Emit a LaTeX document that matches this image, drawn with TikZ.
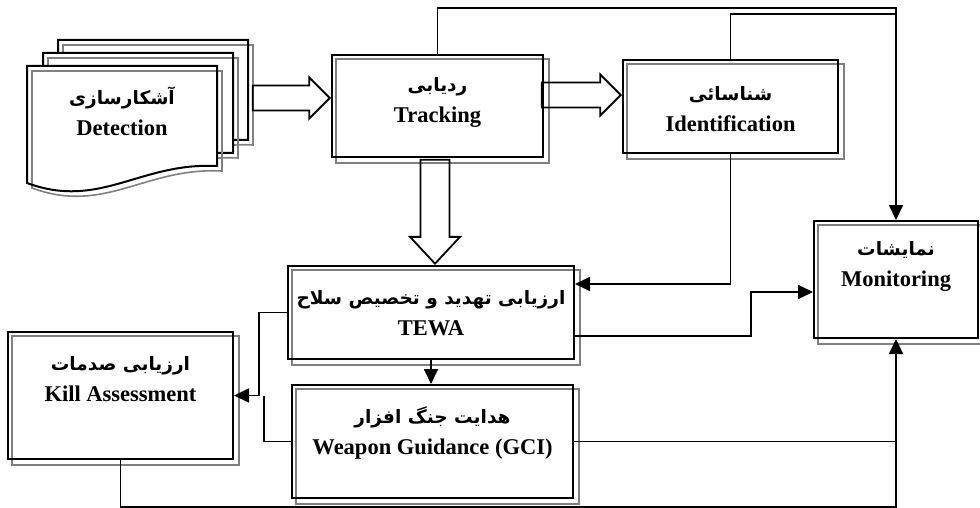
\documentclass[tikz,border=0pt]{standalone}
\usepackage{fontspec}
\setmainfont{Liberation Serif}
\newfontfamily\arabicfont[Script=Arabic]{DejaVu Sans}
\TeXXeTstate=1
\usetikzlibrary{arrows.meta,shapes.arrows,backgrounds}

\newcommand{\fafont}{\arabicfont\bfseries\fontsize{18.5}{30}\selectfont}
\newcommand{\docpath}{(0,0) -- (190,0) -- (190,100) .. controls (113,96) and (73,144) .. (0,117) -- cycle}

\tikzset{
    box/.style={draw, line width=2pt, rectangle, inner sep=0pt},
    lbl/.style={align=center, font=\fontsize{22.5}{31}\selectfont\bfseries},
    conn/.style={line width=1.8pt},
    tip/.style={conn, -{Triangle[length=15pt,width=14pt]}},
    hollow/.style={draw, line width=1.8pt, single arrow, single arrow head indent=0pt, anchor=tip},
    shade/.style={draw=gray, line width=1.6pt}
}

\begin{document}
\begin{tikzpicture}[x=1pt, y=-1pt]
    \useasboundingbox (0,0) rectangle (980,508);

    % stacked documents
    \foreach \dx/\dy in {31/-26, 16/-13, 0/0} {
        \begin{scope}[shift={(27+\dx,66+\dy)}]
            \fill[white] \docpath;
            \draw[shade, shift={(5,5)}] \docpath;
            \draw[line width=2pt] \docpath;
        \end{scope}
    }
    \node[lbl] (det) at (122,111) {{\fafont\beginR آشکارسازی\endR}\\Detection};

    % boxes
    \node[box, minimum width=211pt, minimum height=102pt,
        label={[lbl, yshift=4pt]center:{{\fafont\beginR ردیابی\endR}\\Tracking}}] (trk) at (437.5,106) {};
    \node[box, minimum width=215pt, minimum height=93pt,
        label={[lbl, yshift=-2.5pt]center:{{\fafont\beginR شناسائی\endR}\\Identification}}] (idn) at (730.5,106.5) {};
    \node[box, minimum width=164pt, minimum height=117pt,
        label={[lbl, yshift=13.5pt]center:{{\fafont\beginR نمایشات\endR}\\Monitoring}}] (mon) at (896,279.5) {};
    \node[box, minimum width=286pt, minimum height=93pt,
        label={[lbl, yshift=-1pt]center:{{\fafont\beginR ارزیابی تهدید و تخصیص سلاح\endR}\\TEWA}}] (tewa) at (431,312.5) {};
    \node[box, minimum width=281pt, minimum height=113pt,
        label={[lbl, yshift=8.5pt]center:{{\fafont\beginR هدایت جنگ افزار\endR}\\Weapon Guidance (GCI)}}] (gci) at (432.5,441.5) {};
    \node[box, minimum width=225pt, minimum height=127pt,
        label={[lbl, yshift=16.5pt]center:{{\fafont\beginR ارزیابی صدمات\endR}\\Kill Assessment}}] (ka) at (120.5,395.5) {};

    \begin{scope}[on background layer]
        \foreach \n in {trk,idn,mon,tewa,gci,ka}
            \draw[shade] ([shift={(5,5)}]\n.north west) rectangle ([shift={(5,5)}]\n.south east);
    \end{scope}

    % hollow arrows
    \node[hollow, inner sep=10pt, minimum height=77pt, minimum width=41pt] (a1) at ([yshift=8pt]trk.west) {};
    \node[hollow, inner sep=10pt, minimum height=79pt, minimum width=41pt] (a2) at ([yshift=11.5pt]idn.west) {};
    \node[hollow, inner sep=9pt, minimum height=104pt, minimum width=50pt,
        single arrow tip angle=86, shape border rotate=270] (a3) at ([xshift=4pt]tewa.north) {};

    % connectors
    \draw[tip] (trk.north) -- (trk.north |- 0,8) -- (mon.north |- 0,8) -- (mon.north);
    \draw[conn] (idn.north) -- (idn.north |- 0,14) -- (mon.north |- 0,14);
    \draw[tip] (idn.south) |- ([yshift=28.5pt]tewa.east);
    \draw[tip] ([yshift=-23.5pt]tewa.east) -- ++(176,0) |- ([yshift=-12.5pt]mon.west);
    \draw[tip] (tewa.south) -- (tewa.south |- gci.north);
    \draw[tip] (tewa.west) -- ++(-28,0) |- (ka.east);
    \draw[conn] (gci.west) -| ([xshift=30pt]ka.east);
    \draw[conn] (gci.east) -- (gci.east -| mon.south);
    \draw[tip] (ka.south) -- ++(0,47) -| (mon.south);
\end{tikzpicture}
\end{document}
